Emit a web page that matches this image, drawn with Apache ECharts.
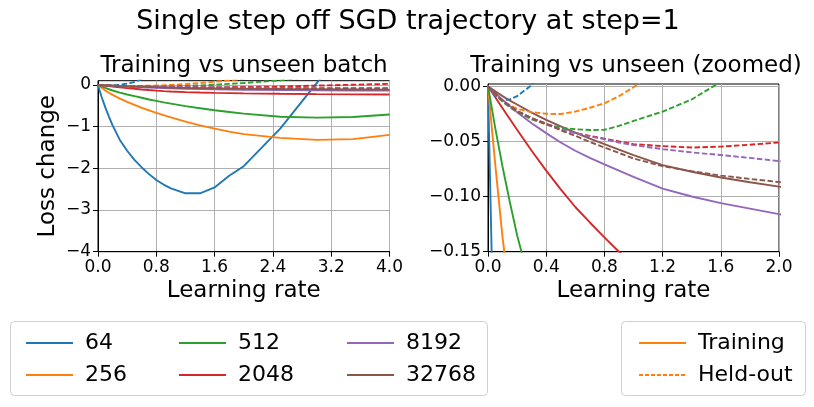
<!DOCTYPE html>
<html>
<head>
<meta charset="utf-8">
<script src="https://cdn.jsdelivr.net/npm/echarts@6/dist/echarts.min.js"></script>
<style>
  html, body { margin: 0; padding: 0; background: #fff; }
  #chart { width: 814px; height: 407px; }
</style>
</head>
<body>
<div id="chart"></div>
<script>
// learning rates the curves were sampled at
const lrs = [0, 0.025, 0.05, 0.1, 0.15, 0.2, 0.3, 0.4, 0.5, 0.6, 0.7, 0.8, 0.9, 1.0, 1.2, 1.4, 1.6, 1.8, 2.0, 2.5, 3.0, 3.5, 4.0]

const batchSizes = ['64', '256', '512', '2048', '8192', '32768']
const colors = ['#1f77b4', '#ff7f0e', '#2ca02c', '#d62728', '#9467bd', '#8c564b']

// loss change on the training batch (solid)
const train64 = [0, -0.15, -0.29, -0.54, -0.76, -0.97, -1.32, -1.58, -1.80, -1.98, -2.14, -2.28, -2.39, -2.48, -2.60, -2.60, -2.46, -2.18, -1.95, -1.05, 0.04, 1.1, 2.2]
const train256 = [0, -0.036, -0.071, -0.137, -0.19, -0.24, -0.33, -0.41, -0.48, -0.55, -0.61, -0.67, -0.725, -0.78, -0.88, -0.97, -1.05, -1.12, -1.18, -1.27, -1.32, -1.30, -1.20]
const train512 = [0, -0.019, -0.038, -0.073, -0.105, -0.135, -0.185, -0.23, -0.27, -0.31, -0.35, -0.385, -0.42, -0.45, -0.51, -0.56, -0.61, -0.65, -0.69, -0.765, -0.785, -0.77, -0.71]
const train2048 = [0, -0.005, -0.01, -0.020, -0.0298, -0.0395, -0.0585, -0.0765, -0.0935, -0.1095, -0.1235, -0.137, -0.15, -0.16, -0.174, -0.184, -0.191, -0.197, -0.203, -0.214, -0.222, -0.228, -0.232]
const train8192 = [0, -0.0032, -0.0064, -0.0125, -0.018, -0.0235, -0.0335, -0.0425, -0.051, -0.0585, -0.065, -0.0708, -0.0765, -0.0822, -0.0928, -0.100, -0.106, -0.111, -0.116, -0.125, -0.131, -0.135, -0.137]
const train32768 = [0, -0.0024, -0.0047, -0.009, -0.013, -0.0166, -0.024, -0.0306, -0.0365, -0.042, -0.0475, -0.0525, -0.0575, -0.0625, -0.0715, -0.0775, -0.0827, -0.087, -0.091, -0.099, -0.105, -0.11, -0.114]

// loss change on an unseen batch (dashed)
const held64 = [0, -0.005, -0.009, -0.0125, -0.012, -0.009, 0.001, 0.03, 0.07, 0.14, 0.24, 0.35, 0.5, 0.7, 1.1, 1.5, 1.9, 2.3, 2.7, 3.6, 4.5, 5.4, 6.3]
const held256 = [0, -0.004, -0.0075, -0.013, -0.017, -0.0205, -0.0235, -0.025, -0.0252, -0.023, -0.0195, -0.0155, -0.009, -0.001, 0.018, 0.045, 0.075, 0.11, 0.15, 0.27, 0.42, 0.6, 0.8]
const held512 = [0, -0.004, -0.0078, -0.014, -0.019, -0.0235, -0.030, -0.0345, -0.0375, -0.039, -0.0397, -0.0395, -0.036, -0.0315, -0.023, -0.012, 0.004, 0.024, 0.045, 0.11, 0.2, 0.3, 0.4]
const held2048 = [0, -0.004, -0.0075, -0.013, -0.018, -0.0225, -0.029, -0.0345, -0.039, -0.0425, -0.045, -0.0475, -0.050, -0.0525, -0.0543, -0.0556, -0.0548, -0.053, -0.051, -0.040, -0.018, 0.003, 0.024]
const held8192 = [0, -0.004, -0.0075, -0.013, -0.018, -0.0225, -0.029, -0.034, -0.039, -0.0425, -0.0455, -0.048, -0.051, -0.0534, -0.057, -0.060, -0.0624, -0.065, -0.0679, -0.072, -0.074, -0.074, -0.073]
const held32768 = [0, -0.0035, -0.0068, -0.013, -0.018, -0.0225, -0.029, -0.034, -0.040, -0.045, -0.0505, -0.0555, -0.0605, -0.0655, -0.0725, -0.077, -0.081, -0.084, -0.0869, -0.092, -0.096, -0.098, -0.099]

const training = [train64, train256, train512, train2048, train8192, train32768]
const heldOut = [held64, held256, held512, held2048, held8192, held32768]

const FONT = 'DejaVu Sans'
const minus = s => String(s).replace('-', '\u2212')

const chart = echarts.init(document.getElementById('chart'))

const toPoints = vals => lrs.map((x, i) => [x, vals[i]])

// solid series first so the legend picks solid icons
const series = []
for (const g of [0, 1]) {
  batchSizes.forEach((name, i) => {
    series.push({
      name, type: 'line', xAxisIndex: g, yAxisIndex: g,
      data: toPoints(training[i]), symbol: 'none', clip: true,
      lineStyle: { color: colors[i], width: 1.9 }, itemStyle: { color: colors[i] },
      z: 3
    })
  })
}
for (const g of [0, 1]) {
  batchSizes.forEach((name, i) => {
    series.push({
      name, type: 'line', xAxisIndex: g, yAxisIndex: g,
      data: toPoints(heldOut[i]), symbol: 'none', clip: true,
      lineStyle: { color: colors[i], width: 1.9, type: [5.5, 2.4] }, itemStyle: { color: colors[i] },
      z: 3
    })
  })
}
// legend-only entries for line style
series.push({ name: 'Training', type: 'line', data: [], symbol: 'none',
  lineStyle: { color: '#ff7f0e', width: 1.9 }, itemStyle: { color: '#ff7f0e' } })
series.push({ name: 'Held-out', type: 'line', data: [], symbol: 'none',
  lineStyle: { color: '#ff7f0e', width: 1.9, type: [4, 2] }, itemStyle: { color: '#ff7f0e' } })

const axisCommon = {
  type: 'value',
  axisLine: { show: true, onZero: false, lineStyle: { color: '#000', width: 1 } },
  axisTick: { show: true, inside: false, length: 5, lineStyle: { color: '#000', width: 1 } },
  splitLine: { show: true, lineStyle: { color: '#b0b0b0', width: 1 } },
  axisLabel: { color: '#000', fontFamily: FONT, fontSize: 17, margin: 7 },
  nameTextStyle: { color: '#000', fontFamily: FONT, fontSize: 23 }
}

const legendText = { color: '#000', fontFamily: FONT, fontSize: 22, padding: [0, 0, 0, 7] }
const legendBase = {
  orient: 'vertical', itemWidth: 47, itemHeight: 14, itemGap: 10,
  selectedMode: false, textStyle: legendText, top: 327,
  itemStyle: { opacity: 0 }
}

chart.setOption({
  animation: false,
  backgroundColor: '#fff',
  grid: [
    { left: 98, top: 80.7, width: 291.5, height: 171, show: true, borderColor: '#000', borderWidth: 1 },
    { left: 488, top: 84, width: 291, height: 167.7, show: true, borderColor: '#000', borderWidth: 1 }
  ],
  xAxis: [
    Object.assign({}, axisCommon, {
      gridIndex: 0, min: 0, max: 4, interval: 0.8,
      name: 'Learning rate', nameLocation: 'middle', nameGap: 28,
      axisLabel: Object.assign({}, axisCommon.axisLabel, { formatter: v => v.toFixed(1) })
    }),
    Object.assign({}, axisCommon, {
      gridIndex: 1, min: 0, max: 2, interval: 0.4,
      name: 'Learning rate', nameLocation: 'middle', nameGap: 28,
      axisLabel: Object.assign({}, axisCommon.axisLabel, { formatter: v => v.toFixed(1) })
    })
  ],
  yAxis: [
    Object.assign({}, axisCommon, {
      gridIndex: 0, min: -4, max: 0.1, interval: 1,
      name: 'Loss change', nameLocation: 'middle', nameGap: 38,
      axisTick: Object.assign({}, axisCommon.axisTick, { customValues: [-4, -3, -2, -1, 0] }),
      axisLabel: Object.assign({}, axisCommon.axisLabel, {
        customValues: [-4, -3, -2, -1, 0], formatter: v => minus(Math.round(v))
      })
    }),
    Object.assign({}, axisCommon, {
      gridIndex: 1, min: -0.15, max: 0.002, interval: 0.05,
      axisTick: Object.assign({}, axisCommon.axisTick, { customValues: [-0.15, -0.1, -0.05, 0] }),
      axisLabel: Object.assign({}, axisCommon.axisLabel, {
        customValues: [-0.15, -0.1, -0.05, 0], formatter: v => minus(v.toFixed(2))
      })
    })
  ],
  legend: [
    Object.assign({}, legendBase, { left: 20, data: ['64', '256'] }),
    Object.assign({}, legendBase, { left: 173, data: ['512', '2048'] }),
    Object.assign({}, legendBase, { left: 341, data: ['8192', '32768'] }),
    Object.assign({}, legendBase, { left: 633, data: ['Training', 'Held-out'] })
  ],
  graphic: [
    { type: 'text', x: 408, y: 22, style: { text: 'Single step off SGD trajectory at step=1',
      font: '27px "DejaVu Sans"', fill: '#000', align: 'center', verticalAlign: 'middle' } },
    { type: 'text', x: 244, y: 66, style: { text: 'Training vs unseen batch',
      font: '23px "DejaVu Sans"', fill: '#000', align: 'center', verticalAlign: 'middle' } },
    { type: 'text', x: 636, y: 66, style: { text: 'Training vs unseen (zoomed)',
      font: '23px "DejaVu Sans"', fill: '#000', align: 'center', verticalAlign: 'middle' } },
    { type: 'rect', shape: { x: 10.5, y: 321.5, width: 477, height: 74, r: 4 },
      style: { fill: 'rgba(255,255,255,0.8)', stroke: '#d0d0d0', lineWidth: 1 }, z: -1 },
    { type: 'rect', shape: { x: 621.5, y: 321.5, width: 184, height: 74, r: 4 },
      style: { fill: 'rgba(255,255,255,0.8)', stroke: '#d0d0d0', lineWidth: 1 }, z: -1 }
  ],
  series
})
</script>
</body>
</html>
